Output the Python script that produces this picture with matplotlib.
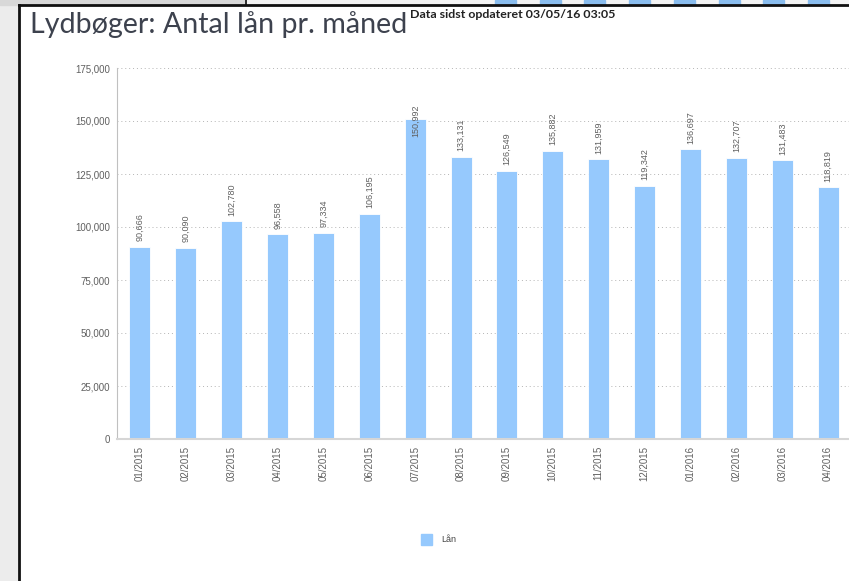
import matplotlib.pyplot as plt
from matplotlib.patches import Rectangle
from matplotlib.lines import Line2D

# ───────── DATA ─────────
months = ['01/2015', '02/2015', '03/2015', '04/2015', '05/2015', '06/2015',
          '07/2015', '08/2015', '09/2015', '10/2015', '11/2015', '12/2015',
          '01/2016', '02/2016', '03/2016', '04/2016']
loans = [90666, 90090, 102780, 96558, 97334, 106195, 150992, 133131,
         126549, 135882, 131959, 119342, 136697, 132707, 131483, 118819]
yticks = [0, 25000, 50000, 75000, 100000, 125000, 150000, 175000]

title = 'Lydbøger: Antal lån pr. måned'
updated = 'Data sidst opdateret 03/05/16 03:05'
series_name = 'Lån'

W, H = 849, 581
BLUE = '#96c9fd'
GREY_TXT = '#606060'
narrow = ['Lato', 'DejaVu Sans']

fig = plt.figure(figsize=(W / 100, H / 100), dpi=100)
fig.patch.set_facecolor('white')

def px(x, y):
    # pixel (from top-left) -> figure fraction
    return x / W, 1 - y / H

# ─── screenshot frame around the chart ───
TOP = 5
fig.patches.append(Rectangle(px(0, H), 19 / W, 1, transform=fig.transFigure,
                             color='#ececec', zorder=0))
fig.patches.append(Rectangle(px(0, TOP), 246 / W, TOP / H, transform=fig.transFigure,
                             color='#d8d8d8', zorder=0))
fig.patches.append(Rectangle(px(247, TOP), (W - 247) / W, TOP / H, transform=fig.transFigure,
                             color='#f4f4f4', zorder=0))
for i in range(8):
    x0 = 495 + i * 44.7
    fig.patches.append(Rectangle(px(x0, TOP), 21 / W, TOP / H, transform=fig.transFigure,
                                 color='#8abdee', zorder=1))
fig.lines.append(Line2D([19 / W, 19 / W], [0, 1 - TOP / H], transform=fig.transFigure,
                        color='#111111', lw=2))
fig.lines.append(Line2D([19 / W, 1], [1 - TOP / H, 1 - TOP / H], transform=fig.transFigure,
                        color='#111111', lw=2))
fig.lines.append(Line2D([246 / W, 246 / W], [1 - TOP / H, 1], transform=fig.transFigure,
                        color='#111111', lw=1.2))

# ─── axes ───
l, b = px(117, 439)
r, t = px(851, 68)
ax = fig.add_axes([l, b, r - l, t - b])
x = range(len(months))
ax.bar(x, loans, width=0.46, color=BLUE, edgecolor='white', linewidth=0.6, zorder=2)

ax.set_xlim(-0.5, len(months) - 0.5)
ax.set_ylim(0, 175000)
ax.set_yticks(yticks)
ax.set_yticklabels([f'{v:,}' for v in yticks])
ax.set_xticks(list(x))
ax.set_xticklabels(months, rotation=90)
ax.tick_params(axis='both', length=0, colors=GREY_TXT, labelsize=7)
ax.tick_params(axis='y', pad=5)
ax.tick_params(axis='x', pad=5)
for lab in ax.get_xticklabels() + ax.get_yticklabels():
    lab.set_fontfamily('Liberation Sans')
ax.yaxis.grid(True, color='#b4b4b4', linestyle=(0, (1, 3)), linewidth=0.7, zorder=0)
for side in ['top', 'right']:
    ax.spines[side].set_visible(False)
ax.spines['left'].set_color('#c0c0c0')
ax.spines['left'].set_linewidth(0.8)
ax.spines['bottom'].set_color('#d6d6d6')
ax.spines['bottom'].set_linewidth(1.5)

# value labels
for i, v in enumerate(loans):
    if v > 145000:
        ax.text(i, 158000, f'{v:,}', rotation=90, ha='center', va='top',
                fontsize=6.5, color=GREY_TXT, family='Liberation Sans', zorder=3)
    else:
        ax.annotate(f'{v:,}', (i, v), xytext=(0, 4), textcoords='offset points',
                    rotation=90, ha='center', va='bottom', fontsize=6.5,
                    color=GREY_TXT, family='Liberation Sans', zorder=3)

# ─── titles (font size fitted to the width seen in the screenshot) ───
t1 = fig.text(*px(30, 33), title, fontsize=20, color='#3d424e', family=narrow,
              ha='left', va='baseline')
t2 = fig.text(*px(410, 18.5), updated, fontsize=8.5, color='#222222', family=narrow,
              weight='bold', ha='left', va='baseline')
fig.canvas.draw()
for txt, target in [(t1, 378), (t2, 205)]:
    w = txt.get_window_extent().width
    txt.set_fontsize(txt.get_fontsize() * target / w)

# ─── legend ───
fig.patches.append(Rectangle(px(421, 545), 11 / W, 11 / H, transform=fig.transFigure,
                             color=BLUE))
fig.text(*px(441, 540), series_name, fontsize=6.5, color='#444444',
         family='Liberation Sans', ha='left', va='center')

fig.savefig('out.png', dpi=100)
